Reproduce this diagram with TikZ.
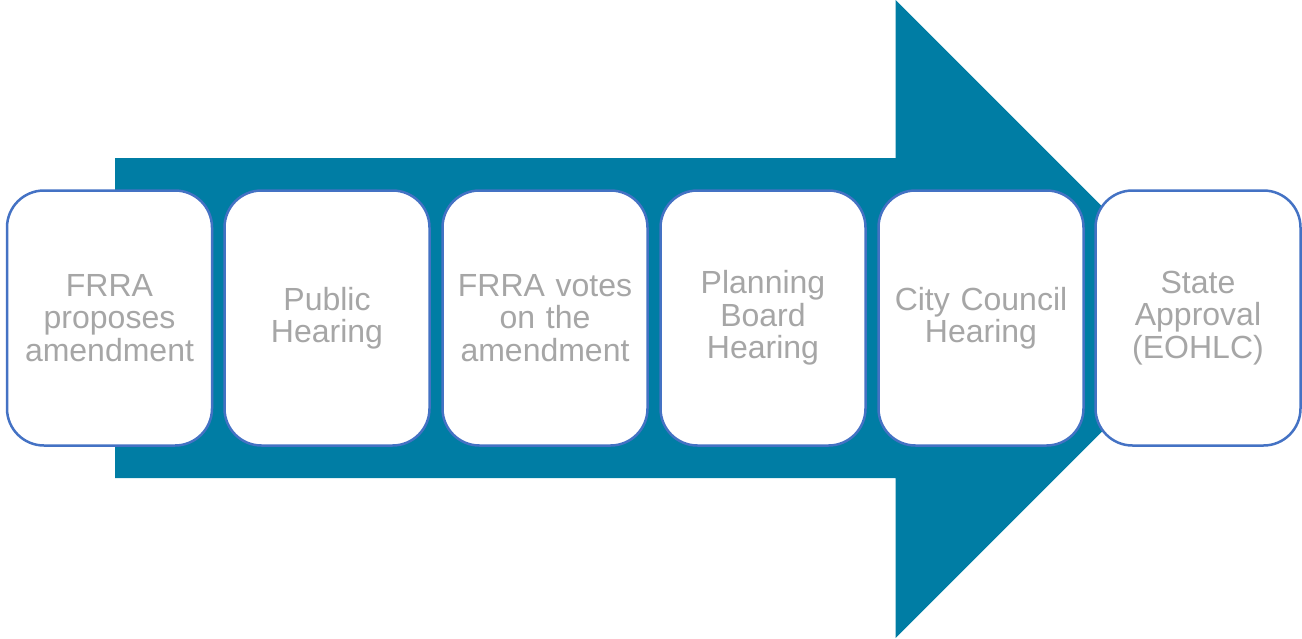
\documentclass[tikz,border=0pt]{standalone}
\usepackage{fontspec}
\setmainfont{Liberation Sans}
\definecolor{arrowteal}{RGB}{0,125,164}
\definecolor{boxedge}{RGB}{68,114,196}
\definecolor{labelgray}{RGB}{166,166,166}
\begin{document}
\begin{tikzpicture}[x=1pt,y=-1pt,
  stage/.style={draw=boxedge, line width=2.5pt, fill=white,
    rounded corners=37pt, minimum width=205pt, minimum height=255pt,
    inner sep=0pt, align=center, text width=204pt, text=labelgray,
    font=\fontsize{32}{32.5}\selectfont}]
\useasboundingbox (0,0) rectangle (1302,638);

% broad process arrow behind the stages
\fill[arrowteal] (115,158) -- (895.7,158) -- (895.7,0) -- (1214.7,319)
  -- (895.7,638) -- (895.7,478) -- (115,478) -- cycle;

% process stages
\node[stage] (s1) at (109.5,318) {FRRA\\proposes\\amendment};
\node[stage] (s2) at (327,318) {Public\\Hearing};
\node[stage] (s3) at (545,318) {FRRA votes\\on the\\amendment};
\node[stage] (s4) at (763,318) {Planning\\Board\\Hearing};
\node[stage] (s5) at (981,318) {City Council\\Hearing};
\node[stage] (s6) at (1198,318) {State\\Approval\\(EOHLC)};
\end{tikzpicture}
\end{document}
